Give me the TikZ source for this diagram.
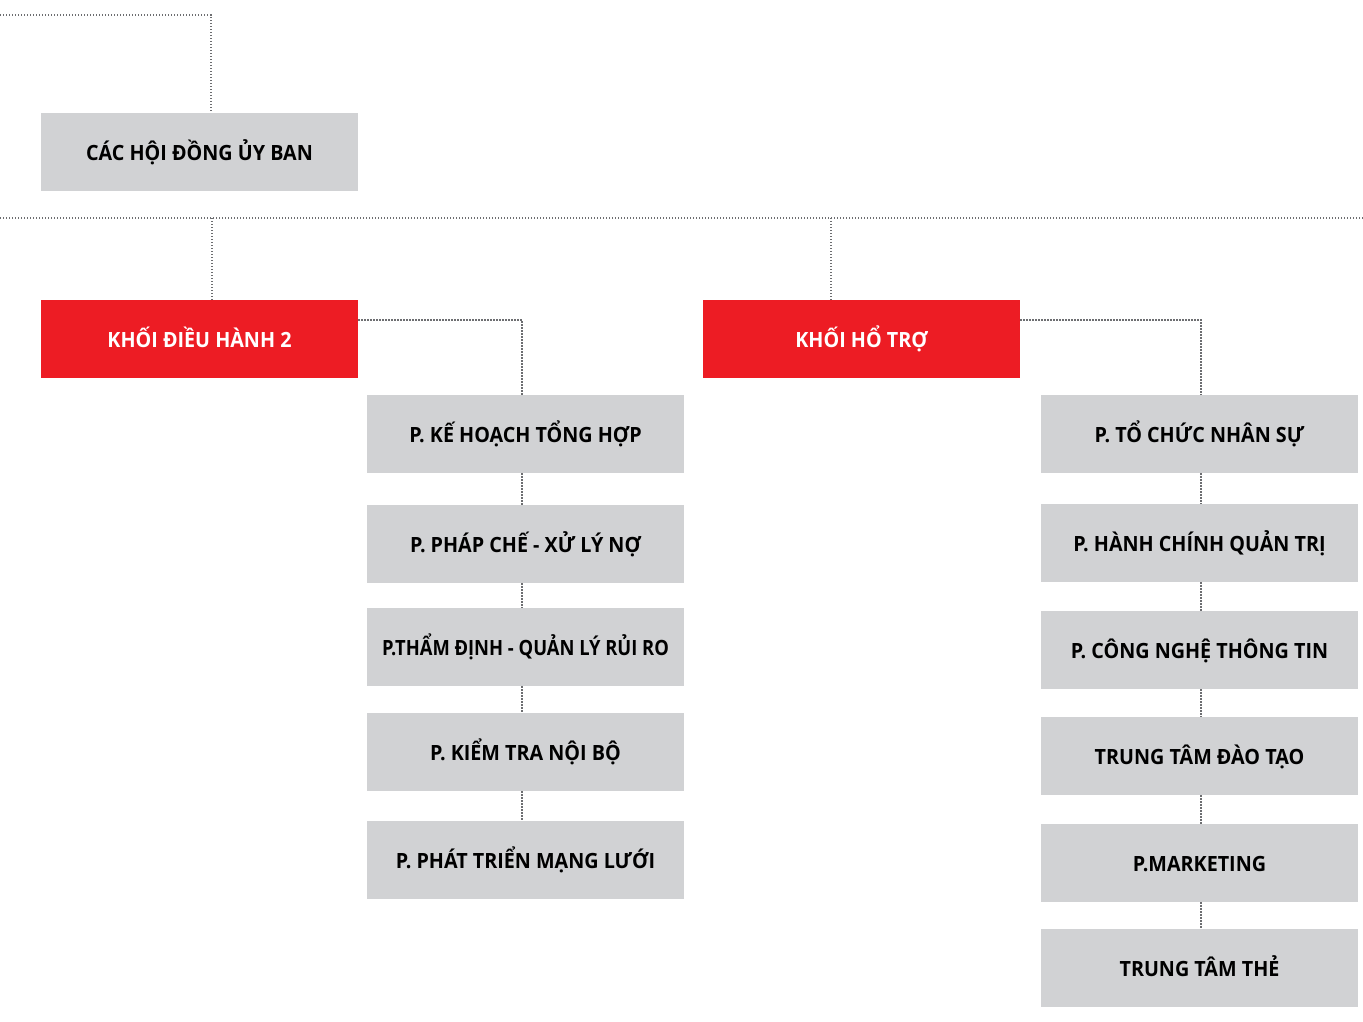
\documentclass[tikz,border=0pt]{standalone}
\usepackage{fontspec}
\usepackage{graphicx}
\setmainfont{Open Sans}[BoldFont={Open Sans Bold},BoldFeatures={FakeStretch=0.94}]
\definecolor{boxgray}{HTML}{D1D2D4}
\definecolor{boxred}{HTML}{ED1C24}
\definecolor{linegray}{HTML}{6D6E71}
\begin{document}
\begin{tikzpicture}[x=1pt,y=-1pt,
  box/.style={minimum width=317pt,minimum height=78pt,inner sep=0pt,text height=17pt,text depth=0pt,font=\fontsize{21}{24}\selectfont\bfseries},
  graybox/.style={box,fill=boxgray,text=black},
  redbox/.style={box,fill=boxred,text=white},
  conn/.style={draw=linegray,line width=1.1pt,dash pattern=on 1.3pt off 1.7pt}]
\useasboundingbox[fill=white] (0,0) rectangle (1363,1021);
% top
\node[graybox] (hd) at (199.5,152) {CÁC HỘI ĐỒNG ỦY BAN};
\coordinate (tl) at (0,15);
\draw[conn] (tl) -| (hd.north -| 211,0);
% horizontal bus
\coordinate (bl) at (0,218);
\coordinate (br) at (1363,218);
\draw[conn] (bl) -- (br);
\node[redbox] (k1) at (199.5,339) {KHỐI ĐIỀU HÀNH 2};
\node[redbox] (k2) at (861.5,339) {KHỐI HỔ TRỢ};
\draw[conn] (212,218) -- (k1.north -| 212,0);
\draw[conn] (831,218) -- (k2.north -| 831,0);
% left column
\node[graybox] (l1) at (525.5,434) {P. KẾ HOẠCH TỔNG HỢP};
\node[graybox] (l2) at (525.5,544) {P. PHÁP CHẾ - XỬ LÝ NỢ};
\node[graybox] (l3) at (525.5,647) {\scalebox{0.93}[1]{P.THẨM ĐỊNH - QUẢN LÝ RỦI RO}};
\node[graybox] (l4) at (525.5,752) {P. KIỂM TRA NỘI BỘ};
\node[graybox] (l5) at (525.5,860) {P. PHÁT TRIỂN MẠNG LƯỚI};
\draw[conn] (k1.east |- 0,320) -| (l1.north -| 522,0);
\draw[conn] (l1.south -| 522,0) -- (l2.north -| 522,0);
\draw[conn] (l2.south -| 522,0) -- (l3.north -| 522,0);
\draw[conn] (l3.south -| 522,0) -- (l4.north -| 522,0);
\draw[conn] (l4.south -| 522,0) -- (l5.north -| 522,0);
% right column
\node[graybox] (r1) at (1199.5,434) {P. TỔ CHỨC NHÂN SỰ};
\node[graybox] (r2) at (1199.5,543) {P. HÀNH CHÍNH QUẢN TRỊ};
\node[graybox] (r3) at (1199.5,650) {P. CÔNG NGHỆ THÔNG TIN};
\node[graybox] (r4) at (1199.5,756) {TRUNG TÂM ĐÀO TẠO};
\node[graybox] (r5) at (1199.5,863) {P.MARKETING};
\node[graybox] (r6) at (1199.5,968) {TRUNG TÂM THẺ};
\draw[conn] (k2.east |- 0,320) -| (r1.north -| 1201,0);
\draw[conn] (r1.south -| 1201,0) -- (r2.north -| 1201,0);
\draw[conn] (r2.south -| 1201,0) -- (r3.north -| 1201,0);
\draw[conn] (r3.south -| 1201,0) -- (r4.north -| 1201,0);
\draw[conn] (r4.south -| 1201,0) -- (r5.north -| 1201,0);
\draw[conn] (r5.south -| 1201,0) -- (r6.north -| 1201,0);
\end{tikzpicture}
\end{document}
